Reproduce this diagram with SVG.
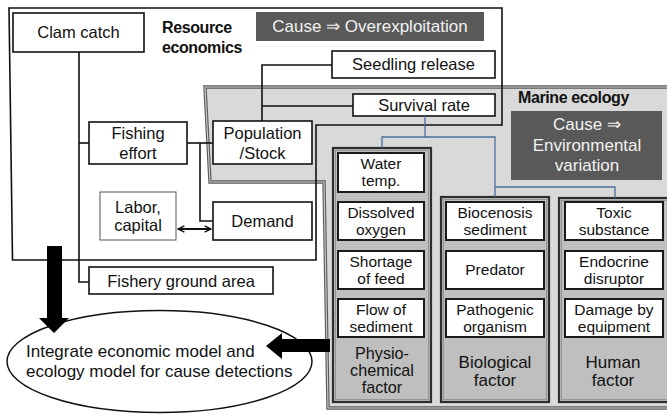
<svg xmlns="http://www.w3.org/2000/svg" width="667" height="415" viewBox="0 0 667 415">
<defs>
<style>
text{font-family:"Liberation Sans",Arial,sans-serif;fill:#111;}
.box{fill:#fff;stroke:#111;stroke-width:1.6;}
.fbox{fill:#fff;stroke:#1a1a1a;stroke-width:2;}
.thin{fill:#fff;stroke:#555;stroke-width:1;}
.t16{font-size:16.5px;}
.t15{font-size:15.5px;}
.t17{font-size:17px;}
.t165{font-size:16.2px;}
.c{text-anchor:middle;}
.b{font-weight:bold;font-size:16px;letter-spacing:-0.4px;}
.dark{fill:#595959;}
.w{fill:#f2f2f2;}
.panel{fill:#bfbfbf;stroke:#2e2e2e;stroke-width:2.2;}
.pin{fill:none;stroke:#8a8a8a;stroke-width:0.8;}
.ln{fill:none;stroke:#111;stroke-width:1.6;}
.blue{fill:none;stroke:#4a6f9c;stroke-width:1.3;}
</style>
<marker id="chev" viewBox="0 0 10 10" refX="9" refY="5" markerWidth="8" markerHeight="8" markerUnits="userSpaceOnUse" orient="auto-start-reverse">
<path d="M1,1 L9,5 L1,9" fill="none" stroke="#111" stroke-width="1.8"/>
</marker>
</defs>
<rect width="667" height="415" fill="#fff"/>

<g id="marine-ecology">
<path d="M205,87 L670,87 L670,408 L328,408 L324,182 L210,182 Z" fill="#d9d9d9"/>
<path d="M205,87 L670,87 L670,408 L328,408 L324,182 L210,182 Z" fill="none" stroke="#5a5a5a" stroke-width="3.4"/>
<path d="M205,87 L670,87 L670,408 L328,408 L324,182 L210,182 Z" fill="none" stroke="#cfcfcf" stroke-width="1.1"/>
<text class="b" x="518" y="103">Marine ecology</text>
</g>

<g id="resource-economics">
<path d="M9,8 L502,8 L502,125 L316,125 L316,260 L12.5,260 Z" fill="none" stroke="#111" stroke-width="1.6"/>
<text class="b" x="162" y="33">Resource</text>
<text class="b" x="162" y="53">economics</text>
</g>

<g id="cause-overexploitation">
<rect class="dark" x="256" y="12" width="228" height="29"/>
<text class="t17 c w" x="370" y="32">Cause ⇒ Overexploitation</text>
</g>

<g id="cause-environmental">
<rect class="dark" x="511" y="111" width="151" height="69"/>
<text class="t17 c w" x="587" y="130">Cause ⇒</text>
<text class="t17 c w" x="587" y="151">Environmental</text>
<text class="t17 c w" x="587" y="171">variation</text>
</g>

<g id="clam-catch">
<rect class="box" x="13" y="13" width="131" height="39"/>
<text class="t16 c" x="78.5" y="38">Clam catch</text>
</g>
<g id="fishing-effort">
<rect class="box" x="89" y="122" width="98" height="42"/>
<text class="t16 c" x="138" y="139">Fishing</text>
<text class="t16 c" x="138" y="159">effort</text>
</g>
<g id="population-stock">
<rect class="box" x="213" y="121" width="99" height="43"/>
<text class="t16 c" x="262.5" y="139">Population</text>
<text class="t16 c" x="262.5" y="159">/Stock</text>
</g>
<g id="seedling-release">
<rect class="box" x="332" y="51" width="163" height="27"/>
<text class="t16 c" x="413.5" y="70">Seedling release</text>
</g>
<g id="survival-rate">
<rect class="box" x="353" y="94" width="142" height="22"/>
<text class="t16 c" x="424" y="111">Survival rate</text>
</g>
<g id="labor-capital">
<rect class="thin" x="100" y="192" width="76" height="48"/>
<text class="t16 c" x="138" y="213">Labor,</text>
<text class="t16 c" x="138" y="231">capital</text>
</g>
<g id="demand">
<rect class="box" x="213" y="202" width="99" height="38"/>
<text class="t16 c" x="262.5" y="227">Demand</text>
</g>
<g id="fishery-ground-area">
<rect class="box" x="89" y="267" width="184" height="27"/>
<text class="t16 c" x="181" y="287">Fishery ground area</text>
</g>

<g id="integrate">
<ellipse cx="159.5" cy="361.5" rx="152.5" ry="51" fill="#fff" stroke="#111" stroke-width="1.5"/>
<text class="t17" x="26" y="357">Integrate economic model and</text>
<text class="t17" x="26" y="377">ecology model for cause detections</text>
</g>

<g id="physio-chemical-factor">
<rect class="panel" x="333" y="148" width="98" height="254"/>
<rect class="pin" x="335.5" y="150.5" width="93" height="249"/>
<text class="t165 c" x="382" y="359">Physio-</text>
<text class="t165 c" x="382" y="376">chemical</text>
<text class="t165 c" x="382" y="393">factor</text>
</g>
<g id="biological-factor">
<rect class="panel" x="441" y="197" width="108" height="205"/>
<rect class="pin" x="443.5" y="199.5" width="103" height="200"/>
<text class="t17 c" x="495" y="368">Biological</text>
<text class="t17 c" x="495" y="386">factor</text>
</g>
<g id="human-factor">
<rect class="panel" x="559" y="198" width="112" height="204"/>
<rect class="pin" x="561.5" y="200.5" width="107" height="199"/>
<text class="t17 c" x="613" y="368">Human</text>
<text class="t17 c" x="613" y="386">factor</text>
</g>

<g id="water-temp">
<rect class="fbox" x="338" y="153" width="86" height="39"/>
<text class="t15 c" x="381" y="169">Water</text>
<text class="t15 c" x="381" y="186">temp.</text>
</g>
<g id="dissolved-oxygen">
<rect class="fbox" x="338" y="202" width="86" height="38"/>
<text class="t15 c" x="381" y="218">Dissolved</text>
<text class="t15 c" x="381" y="235">oxygen</text>
</g>
<g id="shortage-of-feed">
<rect class="fbox" x="338" y="251" width="86" height="38"/>
<text class="t15 c" x="381" y="267">Shortage</text>
<text class="t15 c" x="381" y="284">of feed</text>
</g>
<g id="flow-of-sediment">
<rect class="fbox" x="338" y="299" width="86" height="38"/>
<text class="t15 c" x="381" y="315">Flow of</text>
<text class="t15 c" x="381" y="332">sediment</text>
</g>
<g id="biocenosis-sediment">
<rect class="fbox" x="446" y="202" width="98" height="38"/>
<text class="t15 c" x="495" y="218">Biocenosis</text>
<text class="t15 c" x="495" y="235">sediment</text>
</g>
<g id="predator">
<rect class="fbox" x="446" y="251" width="98" height="38"/>
<text class="t15 c" x="495" y="275">Predator</text>
</g>
<g id="pathogenic-organism">
<rect class="fbox" x="446" y="299" width="98" height="38"/>
<text class="t15 c" x="495" y="315">Pathogenic</text>
<text class="t15 c" x="495" y="332">organism</text>
</g>
<g id="toxic-substance">
<rect class="fbox" x="565" y="202" width="98" height="38"/>
<text class="t15 c" x="614" y="218">Toxic</text>
<text class="t15 c" x="614" y="235">substance</text>
</g>
<g id="endocrine-disruptor">
<rect class="fbox" x="565" y="251" width="98" height="38"/>
<text class="t15 c" x="614" y="267">Endocrine</text>
<text class="t15 c" x="614" y="284">disruptor</text>
</g>
<g id="damage-by-equipment">
<rect class="fbox" x="565" y="299" width="98" height="38"/>
<text class="t15 c" x="614" y="315">Damage by</text>
<text class="t15 c" x="614" y="332">equipment</text>
</g>

<g id="connectors">
<path class="ln" d="M79,52 L79,282 L89,282"/>
<path class="ln" d="M79,143 L89,143"/>
<path class="ln" d="M187,143 L213,143"/>
<path class="ln" d="M200,143 L200,221 L213,221"/>
<path class="ln" d="M262,121 L262,65 L332,65"/>
<path class="ln" d="M262,106 L353,106"/>
<line x1="178" y1="229" x2="211" y2="229" stroke="#111" stroke-width="1.8" marker-start="url(#chev)" marker-end="url(#chev)"/>
<path class="blue" d="M425,116 L425,137"/>
<path class="blue" d="M382,148 L382,137 L495,137 L495,197"/>
<path class="blue" d="M495,187 L615,187 L615,198"/>
<polygon points="47,246 62,246 62,318 69,318 54,333 39,318 47,318" fill="#000"/>
<polygon points="330,339 330,352 282,352 282,359 266,346 282,333 282,339" fill="#000"/>
</g>
</svg>
